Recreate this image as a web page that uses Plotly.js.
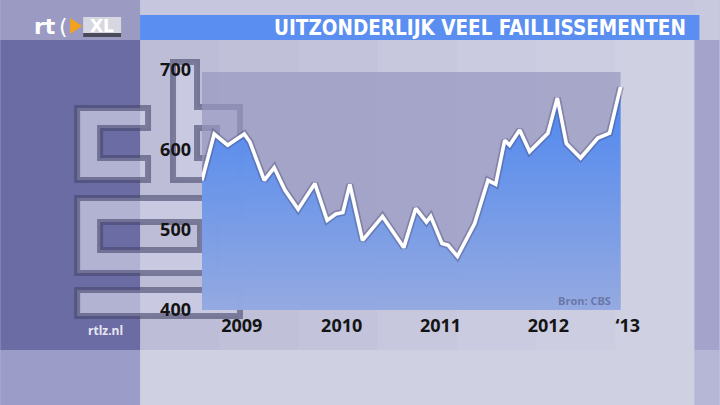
<!DOCTYPE html>
<html>
<head>
<meta charset="utf-8">
<script src="https://cdn.plot.ly/plotly-3.0.1.min.js"></script>
<style>html,body{margin:0;padding:0;background:#c4c4dc;}#chart{width:720px;height:405px;}</style>
</head>
<body>
<div id="chart"></div>
<script>
// ---- data ----
const dates = [2009.000, 2009.117, 2009.245, 2009.404, 2009.458, 2009.595, 2009.690, 2009.792, 2009.919,
  2010.079, 2010.196, 2010.279, 2010.346, 2010.413, 2010.534, 2010.725, 2010.928,
  2011.043, 2011.145, 2011.186, 2011.294, 2011.351, 2011.441, 2011.606, 2011.733, 2011.807, 2011.893, 2011.940,
  2012.036, 2012.131, 2012.306, 2012.396, 2012.482, 2012.618, 2012.783, 2012.895, 2013.000];
const bankruptcies = [562, 620, 606, 620, 610, 562, 578, 550, 526,
  558, 512, 520, 522, 557, 487, 517, 478,
  527, 510, 517, 483, 481, 467, 508, 562, 557, 612, 606,
  625, 598, 621, 665, 608, 590, 615, 621, 679];
const xLabels = ['2009', '2010', '2011', '2012', '\u201813'];
const yTicks = [400, 500, 600, 700];
const titleText = 'UITZONDERLIJK VEEL FAILLISSEMENTEN';
const sourceText = 'Bron: CBS';
const siteText = 'rtlz.nl';

// ---- geometry helpers (pixel -> paper) ----
const W = 720, H = 405, L = 202, R = 88.5, T = 70, B = 95;
const PW = W - L - R, PH = H - T - B;
const px = x => (x - L) / PW;
const py = y => 1 - (y - T) / PH;
function rect(x0, y0, x1, y1, color) {
  return {type: 'rect', xref: 'paper', yref: 'paper', layer: 'below',
    x0: px(x0), x1: px(x1), y0: py(y1), y1: py(y0), fillcolor: color, line: {width: 0}};
}
function path(pts, fill, stroke, width) {
  const d = pts.map(sub => 'M' + sub.map(p => px(p[0]).toFixed(5) + ',' + py(p[1]).toFixed(5)).join('L') + 'Z').join(' ');
  return {type: 'path', xref: 'paper', yref: 'paper', layer: 'below', path: d,
    fillcolor: fill, line: {color: stroke, width: width}};
}

const shapes = [];
// background panels
shapes.push(rect(0, 0, 720, 405, '#c4c4dc'));
const bands = ['#bdbdd7', '#c0c0d9', '#c3c3db', '#c7c7dd', '#cacae0', '#cdcde1', '#d0d0e3'];
const bw = (695 - 140) / bands.length;
bands.forEach((c, i) => shapes.push(rect(140 + i * bw, 40, 140 + (i + 1) * bw + 0.5, 350, c)));
shapes.push(rect(140, 0, 695, 15, '#c6c6de'));
shapes.push(rect(140, 350, 695, 405, '#d0d0e3'));
shapes.push(rect(0, 0, 140, 40, '#9a9ac2'));
shapes.push(rect(0, 40, 140, 350, '#6c6ca5'));
shapes.push(rect(0, 350, 140, 405, '#9c9cc8'));
shapes.push(rect(695, 0, 720, 40, '#c8c8de'));
shapes.push(rect(695, 40, 720, 350, '#a3a3cc'));
shapes.push(rect(695, 350, 720, 405, '#b6b6d6'));
// title banner
shapes.push(rect(140, 15, 700, 40, '#5a8ef1'));

// cbs logo (decorative)
const lf = 'rgba(205,205,228,0.72)', ls = 'rgba(70,70,108,0.6)';
shapes.push(path([[[77,108],[148,108],[148,128],[100,128],[100,158],[148,158],[148,180],[77,180]]], lf, ls, 6));
shapes.push(path([[[173,62],[197,62],[197,107],[240,107],[240,180],[173,180]],
                  [[197,128],[197,158],[217,158],[217,128]]], lf, ls, 6));
shapes.push(path([[[77,198],[240,198],[240,216],[217,216],[217,273],[77,273]],
                  [[100,222],[100,250],[200,250],[200,222]]], lf, ls, 6));
shapes.push(path([[[77,290],[240,290],[240,316],[77,316]]], lf, ls, 6));

// plot background (semi transparent)
shapes.push({type: 'rect', xref: 'x', yref: 'paper', layer: 'below',
  x0: 2009, x1: 2013, y0: 0, y1: py(72), fillcolor: 'rgba(152,152,192,0.72)', line: {width: 0}});

// rtl XL logo pieces
shapes.push(path([[[70,18],[82,26],[70,34]]], '#f2a21e', 'rgba(0,0,0,0)', 0));
shapes.push(rect(83, 17, 121, 37, '#d7d7e2'));
shapes.push(rect(83, 33, 121, 37, '#4a4a5a'));

const traces = [
  {x: dates, y: bankruptcies, type: 'scatter', mode: 'lines', fill: 'tozeroy',
   fillgradient: {type: 'vertical', start: 400, stop: 690,
     colorscale: [[0, 'rgba(148,170,226,0.95)'], [1, 'rgba(70,132,242,0.97)']]},
   line: {color: 'rgba(70,70,110,0.35)', width: 7}, hoverinfo: 'skip', showlegend: false},
  {x: dates, y: bankruptcies, type: 'scatter', mode: 'lines',
   line: {color: '#ffffff', width: 3.6, shape: 'linear'}, showlegend: false}
];

const annotations = [
  {text: titleText, xref: 'paper', yref: 'paper', x: px(689), y: py(28), xanchor: 'right', yanchor: 'middle',
   showarrow: false, font: {family: 'DejaVu Sans Condensed, DejaVu Sans', size: 20.5, color: '#ffffff', weight: 700}},
  {text: sourceText, xref: 'paper', yref: 'paper', x: px(613), y: py(300), xanchor: 'right', yanchor: 'middle',
   showarrow: false, font: {family: 'Open Sans', size: 11, color: '#6a77a8', weight: 700}},
  {text: siteText, xref: 'paper', yref: 'paper', x: px(105), y: py(330), xanchor: 'center', yanchor: 'middle',
   showarrow: false, font: {family: 'Open Sans', size: 12, color: '#e6e6f2', weight: 700}},
  {text: 'rt', xref: 'paper', yref: 'paper', x: px(45), y: py(27), xanchor: 'center', yanchor: 'middle',
   showarrow: false, font: {family: 'DejaVu Sans', size: 22, color: '#ffffff', weight: 700}},
  {text: '(', xref: 'paper', yref: 'paper', x: px(63), y: py(27), xanchor: 'center', yanchor: 'middle',
   showarrow: false, font: {family: 'DejaVu Sans', size: 22, color: '#ffffff', weight: 400}},
  {text: 'XL', xref: 'paper', yref: 'paper', x: px(102), y: py(26), xanchor: 'center', yanchor: 'middle',
   showarrow: false, font: {family: 'DejaVu Sans', size: 17, color: '#ffffff', weight: 700}}
];

const layout = {
  width: W, height: H,
  margin: {l: L, r: R, t: T, b: B, pad: 0},
  paper_bgcolor: 'rgba(0,0,0,0)', plot_bgcolor: 'rgba(0,0,0,0)',
  showlegend: false,
  xaxis: {range: [2009, 2013.1], showgrid: false, zeroline: false, showline: false, ticks: '',
    tickmode: 'array', tickvals: [2009.38, 2010.335, 2011.28, 2012.31, 2013.07], ticktext: xLabels,
    ticklabelstandoff: 3,
    tickfont: {family: 'Open Sans', size: 18, color: '#141414', weight: 700}, fixedrange: true},
  yaxis: {range: [400, 700], showgrid: false, zeroline: false, showline: false, ticks: '',
    tickmode: 'array', tickvals: yTicks, ticktext: yTicks.map(String),
    ticklabelstandoff: 10,
    tickfont: {family: 'Open Sans', size: 18, color: '#141414', weight: 700}, fixedrange: true},
  shapes: shapes,
  annotations: annotations
};

Plotly.newPlot('chart', traces, layout, {staticPlot: true, displayModeBar: false});
</script>
</body>
</html>
